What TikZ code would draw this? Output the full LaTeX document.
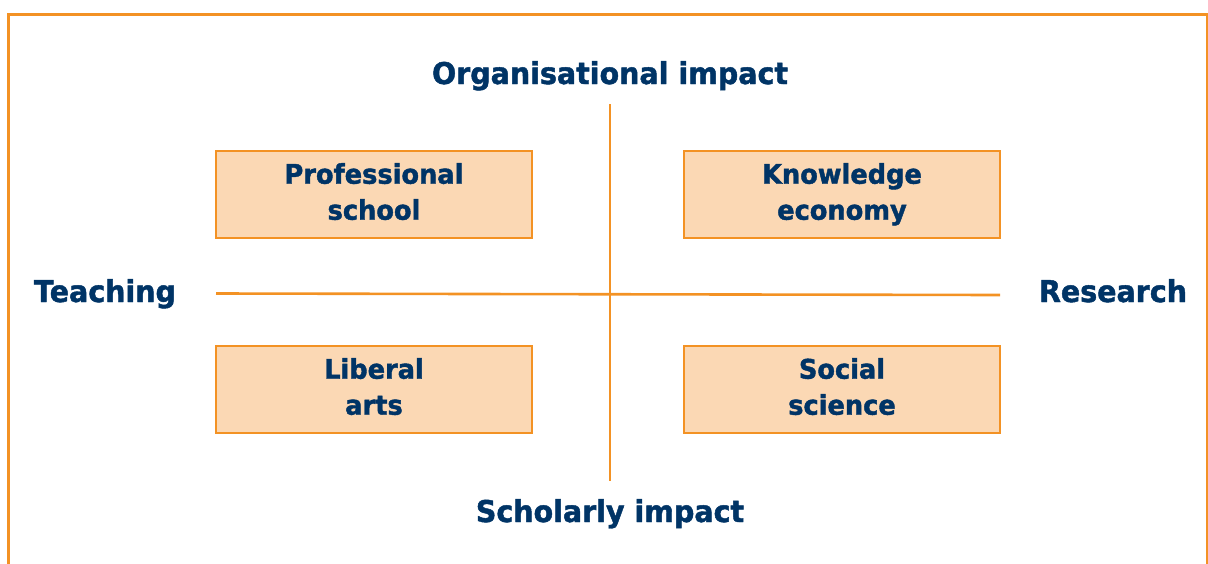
\documentclass[tikz,border=0pt]{standalone}
\usepackage{fontspec}
\setmainfont{DejaVu Sans}[FakeStretch=0.95, BoldFeatures={FakeBold=1.5}]
\definecolor{frameorange}{HTML}{F39224}
\definecolor{boxfill}{HTML}{FBD8B4}
\definecolor{navy}{HTML}{003466}
\begin{document}
\begin{tikzpicture}[x=1pt,y=-1pt,
  lbl/.style={font=\fontsize{30}{36}\selectfont\bfseries, text=navy, anchor=base, inner sep=0pt},
  quad/.style={draw=frameorange, line width=2.6pt, fill=boxfill, minimum width=316pt, minimum height=87pt,
    font=\fontsize{27}{36}\selectfont\bfseries, text=navy, align=center, inner sep=0pt},
  axis/.style={draw=frameorange, line width=2.6pt}]
\useasboundingbox (0,0) rectangle (1208,563);
\draw[frameorange, line width=2.6pt] (8.5,590) -- (8.5,14.5) -- (1207.5,14.5) -- (1207.5,590);
% boxes
\node[quad] (ps) at (374,194.5) {Professional\strut\\school\strut};
\node[quad] (ke) at (842,194.5) {Knowledge\strut\\economy\strut};
\node[quad] (la) at (374,389.5) {Liberal\strut\\arts\strut};
\node[quad] (ss) at (842,389.5) {Social\strut\\science\strut};
% axes
\coordinate (top) at (610,104);
\coordinate (bot) at (610,481);
\coordinate (lft) at (216,293.5);
\coordinate (rgt) at (1000,295);
\draw[axis] (top) -- (bot);
\draw[axis] (lft) -- (rgt);
% labels
\node[lbl] (org) at (610,84) {Organisational impact};
\node[lbl] (sch) at (610,522) {Scholarly impact};
\node[lbl] (tea) at (105,302) {Teaching};
\node[lbl] (res) at (1113,302) {Research};
\end{tikzpicture}
\end{document}
